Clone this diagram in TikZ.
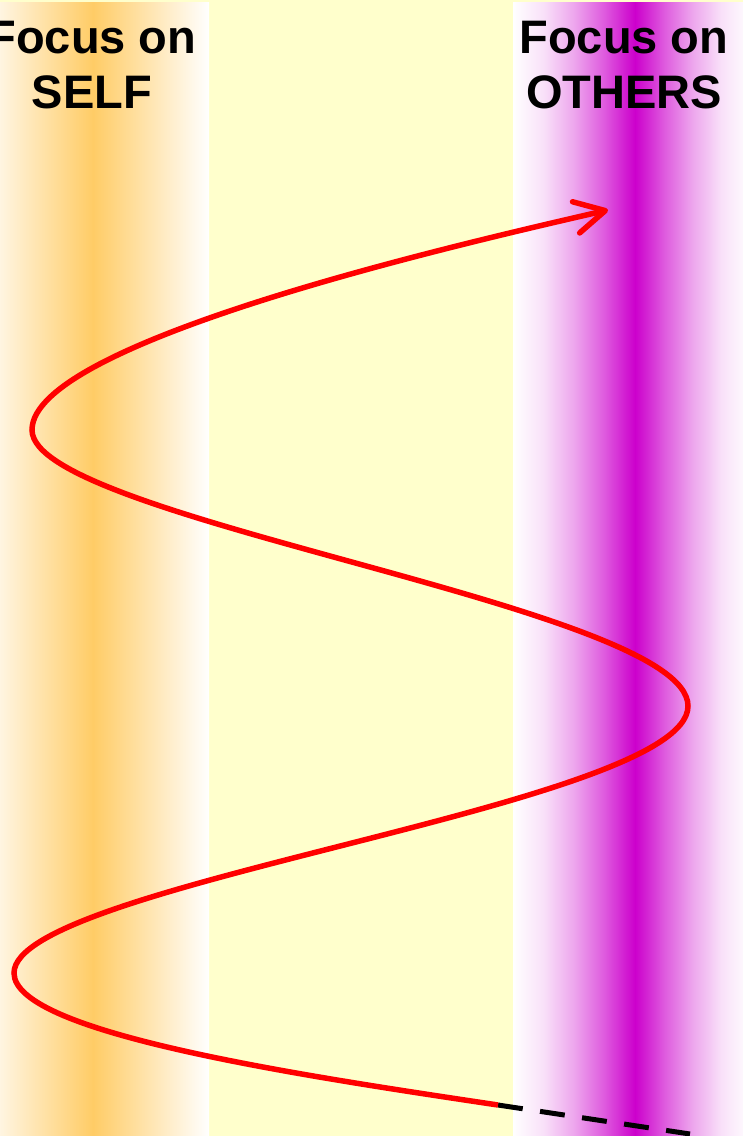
\documentclass[tikz,border=0pt]{standalone}
\usepackage{fontspec}
\setmainfont{Liberation Sans}
\usetikzlibrary{arrows.meta}
\definecolor{paleyellow}{HTML}{FFFFCC}
\definecolor{selforange}{HTML}{FFCC66}
\definecolor{othermagenta}{HTML}{CC00CC}
\pgfdeclarehorizontalshading{othersrise}{100bp}{color(0bp)=(white); color(25bp)=(white);
  color(37.5bp)=(othermagenta!12!white); color(50bp)=(othermagenta!35!white);
  color(62.5bp)=(othermagenta!65!white); color(75bp)=(othermagenta); color(100bp)=(othermagenta)}
\pgfdeclarehorizontalshading{othersfall}{100bp}{color(0bp)=(othermagenta); color(25bp)=(othermagenta);
  color(37.5bp)=(othermagenta!65!white); color(50bp)=(othermagenta!35!white);
  color(62.5bp)=(othermagenta!12!white); color(75bp)=(white); color(100bp)=(white)}

\begin{document}
\begin{tikzpicture}[x=1pt,y=-1pt,
  focus/.style={font=\fontsize{47}{55}\selectfont\bfseries,align=center,inner sep=0pt,anchor=base},
  swing/.style={red,line width=5.5pt}]
\useasboundingbox (0,0) rectangle (743,1136);
\fill[paleyellow] (0,0) rectangle (743,1136);
% the two bands
\shade[left color=white,right color=selforange] (-23,2) rectangle (93,1136);
\shade[left color=selforange,right color=white] (93,2) rectangle (209,1136);
\shade[shading=othersrise] (513,2) rectangle (635,1136);
\shade[shading=othersfall] (635,2) rectangle (750,1136);
\node[focus] (self) at (92,108) {Focus on\\SELF};
\node[focus] (others) at (624,108) {Focus on\\OTHERS};
% turning points of the swing
\coordinate (start) at (498,1105);
\coordinate (lowturn) at (14,973);
\coordinate (midturn) at (688,706);
\coordinate (highturn) at (32,430);
\coordinate (tip) at (608,210);
\coordinate (fade) at (690,1134);
\draw[line width=5pt,dash pattern=on 25pt off 17.5pt] (start) -- (fade);
\draw[swing,-{Straight Barb[length=30pt,width=32pt,round]}]
  (start) .. controls +(-200,-30) and +(0,60) .. (lowturn)
  .. controls +(0,-90) and +(0,100) .. (midturn)
  .. controls +(0,-100) and +(0,90) .. (highturn)
  .. controls +(0,-88) and +(-150,34.5) .. (tip);
\end{tikzpicture}
\end{document}
